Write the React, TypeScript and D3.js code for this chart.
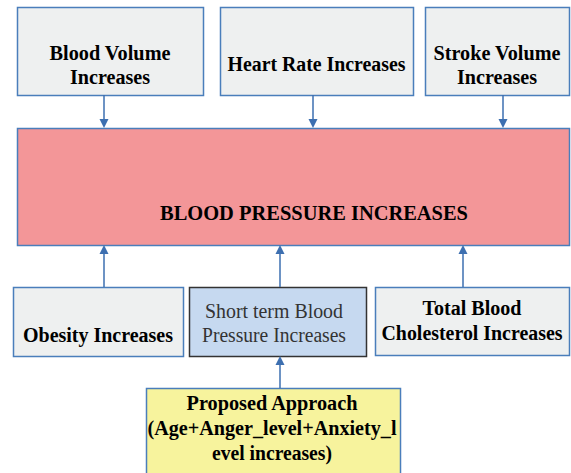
import React from "react";
import * as d3 from "d3";

// ---- content ----
const topLabels: string[][] = [
  ["Blood Volume", "Increases"],
  ["Heart Rate Increases"],
  ["Stroke Volume", "Increases"],
];
const centerLabel: string[] = ["BLOOD PRESSURE INCREASES"];
const bottomLabels: string[][] = [
  ["Obesity Increases"],
  ["Short term Blood", "Pressure Increases"],
  ["Total Blood", "Cholesterol Increases"],
];
const proposedLabel: string[] = ["Proposed Approach", "(Age+Anger_level+Anxiety_l", "evel increases)"];

// ---- layout (pixel geometry) ----
type Box = { x: number; y: number; w: number; h: number; fill: string; stroke: string; weight: number; color: string; baselines: number[]; widths: number[]; cx?: number };
const BLUE = "#4a7ebb";
const ARROW = "#3d6fb0";

const topBoxes: Box[] = [
  { x: 17, y: 7, w: 186, h: 88, fill: "#eef0f0", stroke: BLUE, weight: 700, color: "#000", baselines: [60, 84], widths: [121, 80] },
  { x: 220, y: 7, w: 193, h: 88, fill: "#eef0f0", stroke: BLUE, weight: 700, color: "#000", baselines: [71], widths: [178] },
  { x: 425, y: 7, w: 144, h: 88, fill: "#eef0f0", stroke: BLUE, weight: 700, color: "#000", baselines: [60, 84], widths: [127, 80] },
];
const centerBox: Box = { x: 17, y: 128, w: 552, h: 117, fill: "#f39698", stroke: BLUE, weight: 700, color: "#000", baselines: [220], widths: [308], cx: 314 };
const bottomBoxes: Box[] = [
  { x: 13, y: 287, w: 170, h: 69, fill: "#eef0f0", stroke: BLUE, weight: 700, color: "#000", baselines: [342], widths: [150] },
  { x: 189, y: 287, w: 177, h: 69, fill: "#c6d9f0", stroke: "#333", weight: 400, color: "#333", baselines: [318, 342], widths: [138, 144], cx: 274 },
  { x: 375, y: 287, w: 194, h: 68, fill: "#eef0f0", stroke: BLUE, weight: 700, color: "#000", baselines: [315, 340], widths: [99, 181], cx: 472 },
];
const proposedBox: Box = { x: 146, y: 388, w: 254, h: 95, fill: "#f7f39d", stroke: BLUE, weight: 700, color: "#000", baselines: [410, 435, 460], widths: [171, 249, 120], cx: 272 };

type Arrow = { x: number; y1: number; y2: number };
const arrows: Arrow[] = [
  { x: 104, y1: 95, y2: 128 },
  { x: 313, y1: 95, y2: 128 },
  { x: 503, y1: 95, y2: 128 },
  { x: 104, y1: 287, y2: 245 },
  { x: 280, y1: 287, y2: 245 },
  { x: 463, y1: 287, y2: 245 },
  { x: 280, y1: 388, y2: 356 },
];

const FONT = "'Liberation Serif', 'Times New Roman', serif";

function BoxView({ box, lines }: { box: Box; lines: string[] }) {
  const cx = box.cx ?? box.x + box.w / 2;
  return (
    <g>
      <rect x={box.x + 0.5} y={box.y + 0.5} width={box.w} height={box.h} fill={box.fill} stroke={box.stroke} strokeWidth={1.5} />
      {lines.map((t, i) => (
        <text
          key={i}
          x={cx}
          y={box.baselines[i]}
          textAnchor="middle"
          fontFamily={FONT}
          fontWeight={box.weight}
          fontSize={20}
          fill={box.color}
          textLength={box.widths[i]}
          lengthAdjust="spacingAndGlyphs"
        >
          {t}
        </text>
      ))}
    </g>
  );
}

function ArrowView({ a }: { a: Arrow }) {
  const dir = a.y2 > a.y1 ? 1 : -1;
  const head = 9;
  const line = d3.line()([
    [a.x, a.y1],
    [a.x, a.y2 - dir * head],
  ]) as string;
  const tri = d3.line()([
    [a.x - 4.5, a.y2 - dir * head],
    [a.x + 4.5, a.y2 - dir * head],
    [a.x, a.y2],
  ]) as string;
  return (
    <g>
      <path d={line} stroke={ARROW} strokeWidth={1.5} fill="none" />
      <path d={tri + "Z"} fill={ARROW} />
    </g>
  );
}

export default function App() {
  return (
    <svg width={571} height={473} style={{ position: "absolute", left: 0, top: 0, background: "#fff" }}>
      <rect width={571} height={473} fill="#fff" />
      {topBoxes.map((b, i) => (
        <BoxView key={"t" + i} box={b} lines={topLabels[i]} />
      ))}
      <BoxView box={centerBox} lines={centerLabel} />
      {bottomBoxes.map((b, i) => (
        <BoxView key={"b" + i} box={b} lines={bottomLabels[i]} />
      ))}
      <BoxView box={proposedBox} lines={proposedLabel} />
      {arrows.map((a, i) => (
        <ArrowView key={i} a={a} />
      ))}
    </svg>
  );
}
